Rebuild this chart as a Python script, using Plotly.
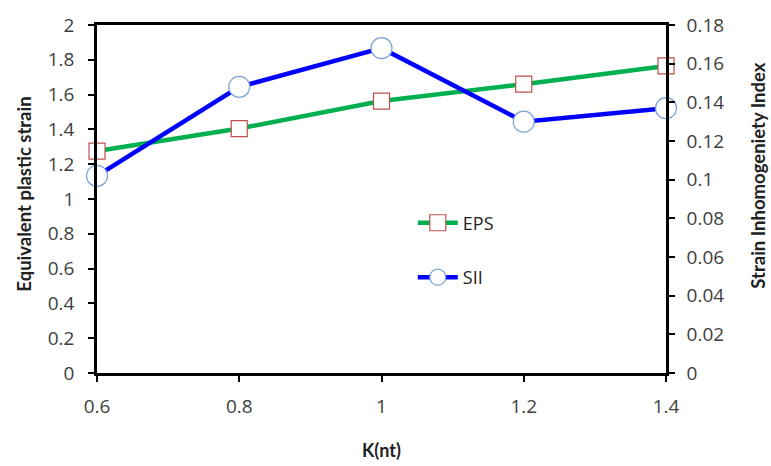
import plotly.graph_objects as go

k_nt = [0.6, 0.8, 1.0, 1.2, 1.4]
eps = [1.275, 1.405, 1.563, 1.66, 1.765]
sii = [0.102, 0.148, 0.168, 0.130, 0.137]

left_ticks = [0, 0.2, 0.4, 0.6, 0.8, 1, 1.2, 1.4, 1.6, 1.8, 2]
right_ticks = [0, 0.02, 0.04, 0.06, 0.08, 0.1, 0.12, 0.14, 0.16, 0.18]
x_ticks = [0.6, 0.8, 1.0, 1.2, 1.4]

TICKFONT = "'Open Sans', sans-serif"
TITLEFONT = "Lato, 'Open Sans', sans-serif"

fig = go.Figure()
fig.add_trace(go.Scatter(
    x=k_nt, y=eps, name="EPS", mode="lines+markers", cliponaxis=False,
    line=dict(color="#00b050", width=4.5),
    marker=dict(symbol="square", size=16, color="white",
                line=dict(color="#c0504d", width=1.2)),
    legendgroup="a", yaxis="y"))
fig.add_trace(go.Scatter(
    x=k_nt, y=sii, name="SII", mode="lines+markers", cliponaxis=False,
    line=dict(color="#0000ff", width=4.5),
    marker=dict(symbol="circle", size=21, color="white",
                line=dict(color="#7ca3d8", width=1.2)),
    legendgroup="b", yaxis="y2"))

axis_common = dict(showgrid=False, zeroline=False, showline=True,
                   linecolor="black", linewidth=2.5, ticks="outside",
                   ticklen=6, tickwidth=2, tickcolor="black",
                   tickfont=dict(family=TICKFONT, size=19, color="#404040"))

fig.update_layout(
    width=771, height=466,
    margin=dict(l=97, r=105, t=19, b=93),
    paper_bgcolor="white", plot_bgcolor="white",
    font=dict(family=TICKFONT, color="#222222"),
    xaxis=dict(range=[0.6, 1.4], tickvals=x_ticks,
               ticktext=["0.6", "0.8", "1", "1.2", "1.4"],
               mirror=True, ticklabelstandoff=8, **axis_common),
    yaxis=dict(range=[0, 2], tickvals=left_ticks,
               ticktext=[f"{v:g}" for v in left_ticks],
               ticklabelstandoff=10, **axis_common),
    yaxis2=dict(range=[0, 0.18], tickvals=right_ticks,
                ticktext=[f"{v:g}" for v in right_ticks],
                overlaying="y", side="right",
                ticklabelstandoff=8, **axis_common),
    legend=dict(x=0.555, y=0.484, xanchor="left", yanchor="top",
                bgcolor="rgba(0,0,0,0)", traceorder="grouped",
                tracegroupgap=28, itemwidth=40,
                font=dict(family=TICKFONT, size=18, color="#222222")),
    showlegend=True,
    annotations=[
        dict(text="<b>K(nt)</b>", xref="paper", yref="paper", x=0.5, y=-0.22,
             xanchor="center", yanchor="middle", showarrow=False,
             font=dict(family=TITLEFONT, size=18, color="#222222")),
        dict(text="<b>Equivalent plastic strain</b>", xref="paper", yref="paper",
             x=-0.128, y=0.513, xanchor="center", yanchor="middle", textangle=-90,
             showarrow=False, font=dict(family=TITLEFONT, size=18.5, color="#222222")),
        dict(text="<b>Strain Inhomogeniety Index</b>", xref="paper", yref="paper",
             x=1.161, y=0.566, xanchor="center", yanchor="middle", textangle=-90,
             showarrow=False, font=dict(family=TITLEFONT, size=18.5, color="#222222")),
    ],
)

fig.write_html("out.html")
